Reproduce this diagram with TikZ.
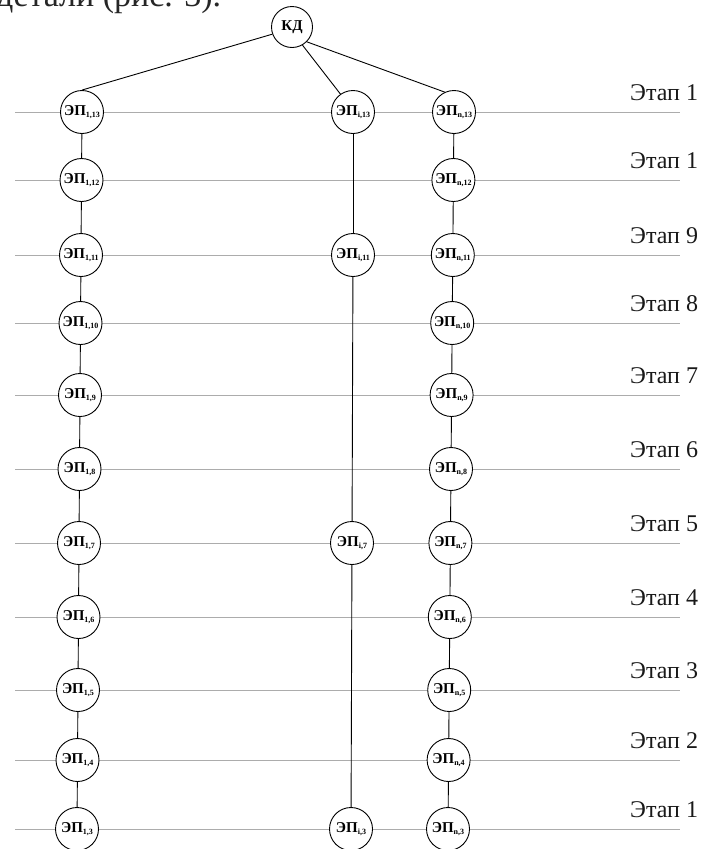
\documentclass[tikz,border=0pt]{standalone}
\usepackage{fontspec}
\setmainfont{Liberation Serif}
\newcommand\epsub[1]{\raisebox{-0.35ex}{\fontsize{8}{8}\selectfont #1}}
\begin{document}
\begin{tikzpicture}[x=1pt,y=-1pt,
  ep/.style={circle,draw,line width=0.9pt,fill=white,minimum size=43pt,inner sep=0pt,
    font=\fontsize{15}{15}\selectfont\bfseries},
  link/.style={line width=0.9pt},
  stageline/.style={gray!65,line width=0.6pt},
  lab/.style={anchor=west,inner sep=0pt,text=black!90,font=\fontsize{24}{24}\selectfont},
  bodytext/.style={anchor=base west,inner sep=0pt,text=black!85,font=\fontsize{34}{34}\selectfont}]
\useasboundingbox (0,0) rectangle (702,849);
\begin{scope}
\clip (0,0) rectangle (702,849);
\node[bodytext] (top) at (-4,6) {детали (рис. 3).};
\end{scope}
% stage lines and labels
\foreach \y/\s [count=\i] in {112/1,180/1,255/9,323/8,395/7,469/6,543/5,617/4,690/3,760/2,829/1}{
  \coordinate (a\i) at (15,\y);
  \coordinate (b\i) at (680,\y);
  \draw[stageline] (a\i) -- (b\i);
  \node[lab] (s\i) at (630,\y-19) {Этап \s};
}
% root
\node[ep,minimum size=41pt] (kd) at (292,27) {КД};
% left and right columns
\foreach \k/\y [count=\i] in {13/112,12/180,11/255,10/323,9/395,8/469,7/543,6/617,5/690,4/760,3/829}{
  \pgfmathsetmacro\xl{82-0.5*(\i-1)}
  \pgfmathsetmacro\xr{454-0.6*(\i-1)}
  \node[ep] (l\k) at (\xl,\y) {ЭП\epsub{1,\k}};
  \node[ep] (r\k) at (\xr,\y) {ЭП\epsub{n,\k}};
}
% middle column
\node[ep] (m13) at (353,112) {ЭП\epsub{i,13}};
\node[ep] (m11) at (353,255) {ЭП\epsub{i,11}};
\node[ep] (m7) at (352,543) {ЭП\epsub{i,7}};
\node[ep] (m3) at (351,829) {ЭП\epsub{i,3}};
% connectors
\draw[link] (kd.200) -- (l13.north);
\draw[link] (kd.-60) -- (m13.125);
\draw[link] (kd.-45) -- (r13.115);
\foreach \a/\b in {13/12,12/11,11/10,10/9,9/8,8/7,7/6,6/5,5/4,4/3}{
  \draw[link] (l\a) -- (l\b);
  \draw[link] (r\a) -- (r\b);
}
\draw[link] (m13) -- (m11);
\draw[link] (m11) -- (m7);
\draw[link] (m7) -- (m3);
\end{tikzpicture}
\end{document}
